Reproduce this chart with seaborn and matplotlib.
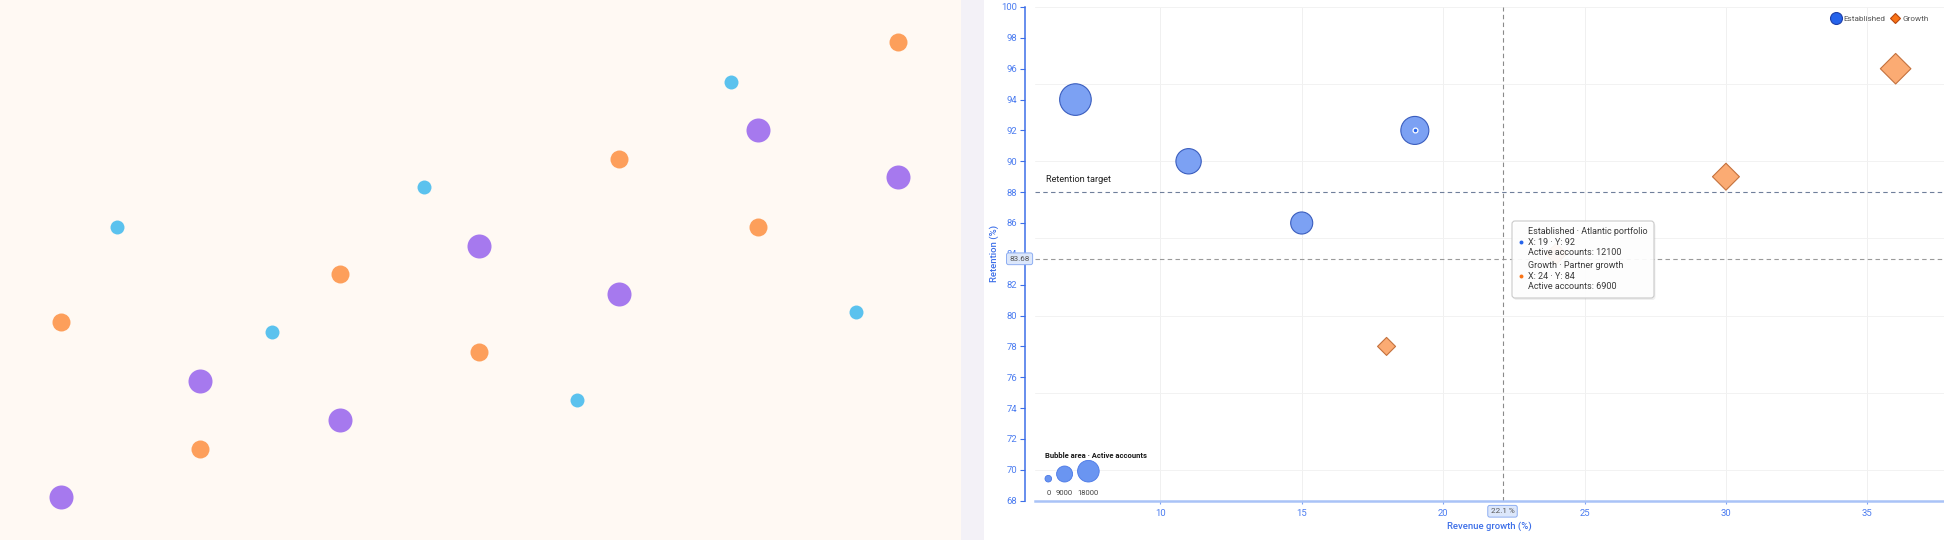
import pandas as pd
import matplotlib.pyplot as plt
import seaborn as sns
from matplotlib.lines import Line2D
from matplotlib.patches import FancyBboxPatch
from matplotlib.ticker import FixedLocator, MultipleLocator
from matplotlib.transforms import blended_transform_factory

# linkes Panel: drei unbeschriftete Punktreihen
purple_x = [0, 1, 2, 3, 4, 5, 6]
purple_y = [8.0, 29.4, 22.2, 54.4, 45.6, 75.9, 67.2]
orange_x = [0, 1, 2, 3, 4, 5, 6]
orange_y = [40.4, 16.9, 49.3, 34.8, 70.6, 58.0, 92.2]
cyan_x = [0.40, 1.51, 2.60, 3.70, 4.80, 5.70]
cyan_y = [58.0, 38.5, 65.4, 25.9, 84.8, 42.2]

# rechtes Panel: Bubble-Chart
est_growth = [7, 11, 15, 19]
est_retention = [94, 90, 86, 92]
est_accounts = [15400, 9900, 7500, 12100]
gro_growth = [18, 24, 30, 36]
gro_retention = [78, 84, 89, 96]
gro_accounts = [5000, 6900, 11200, 14400]
size_legend_values = [0, 9000, 18000]
y_ticks = list(range(68, 101, 2))
x_ticks = [10, 15, 20, 25, 30, 35]
retention_target = 88
cursor_x, cursor_y = 22.1, 83.68
hover = [('Established', 'Atlantic portfolio', 3), ('Growth', 'Partner growth', 1)]

BLUE = '#2563EB'
ORANGE = '#F97316'
AXIS_BLUE = '#3D6FE8'
TICK_BLUE = '#4B7CF0'
W, H = 1944, 540

sns.set_theme(style='white')
plt.rcParams['font.family'] = ['Roboto', 'DejaVu Sans']

fig = plt.figure(figsize=(19.44, 5.4), dpi=100, facecolor='#F3F1F7')

# --- linkes Panel
left = fig.add_axes([0, 0, 961 / W, 1], facecolor='#FFF9F3')
sns.scatterplot(x=purple_x, y=purple_y, ax=left, color='#A679EE', s=299, linewidth=0, legend=False)
sns.scatterplot(x=orange_x, y=orange_y, ax=left, color='#FD9F5B', s=168, linewidth=0, legend=False)
sns.scatterplot(x=cyan_x, y=cyan_y, ax=left, color='#5BC2EE', s=101, linewidth=0, legend=False)
left.set_xlim(-0.437, 6.452)
left.set_ylim(0, 100)
left.set_xticks([])
left.set_yticks([])
for sp in left.spines.values():
    sp.set_visible(False)

# --- rechtes Panel
bg = fig.add_axes([984 / W, 0, (W - 984) / W, 1], facecolor='white')
bg.set_xticks([])
bg.set_yticks([])
for sp in bg.spines.values():
    sp.set_visible(False)

ax = fig.add_axes([1035 / W, (H - 500.7) / H, (W - 1035) / W, (500.7 - 7) / H], facecolor='white')

est = pd.DataFrame({'growth': est_growth, 'retention': est_retention, 'accounts': est_accounts})
gro = pd.DataFrame({'growth': gro_growth, 'retention': gro_retention, 'accounts': gro_accounts})

sns.scatterplot(data=est, x='growth', y='retention', size='accounts', sizes=(0, 0.0336 * 18000),
                size_norm=(0, 18000), color='#7CA1F3', edgecolor='#3A5DBE', linewidth=0.8,
                marker='o', legend=False, ax=ax, zorder=3)
sns.scatterplot(data=gro, x='growth', y='retention', size='accounts', sizes=(0, 0.0168 * 18000),
                size_norm=(0, 18000), color='#FBAB73', edgecolor='#C4713D', linewidth=0.8,
                marker='D', legend=False, ax=ax, zorder=3)

# hervorgehobener Punkt
i_est = hover[0][2]
ax.scatter([est_growth[i_est]], [est_retention[i_est]], s=12, color=BLUE, edgecolor='white',
           linewidth=0.9, zorder=4)

ax.set_xlim(5.57, 37.71)
ax.set_ylim(68, 100)
ax.xaxis.set_major_locator(FixedLocator(x_ticks))
ax.yaxis.set_major_locator(FixedLocator(y_ticks))
ax.yaxis.set_minor_locator(MultipleLocator(5))
ax.yaxis.remove_overlapping_locs = False

ax.grid(axis='x', color='#F0F0F0', linewidth=0.7)
ax.grid(axis='y', which='minor', color='#F2F2F2', linewidth=0.7)
ax.grid(axis='y', which='major', visible=False)
ax.set_axisbelow(True)

ax.spines['top'].set_visible(False)
ax.spines['right'].set_visible(False)
ax.spines['left'].set_position(('outward', 7.2))
ax.spines['left'].set_color(AXIS_BLUE)
ax.spines['left'].set_linewidth(1.1)
ax.spines['bottom'].set_color('#A9C3F7')
ax.spines['bottom'].set_linewidth(1.8)

ax.tick_params(axis='y', which='major', direction='out', length=3.6, width=0.8, color=AXIS_BLUE,
               labelcolor=TICK_BLUE, labelsize=6.8, pad=2, left=True)
ax.tick_params(axis='y', which='minor', length=0)
ax.tick_params(axis='x', direction='out', length=2.2, width=0.8, color='#7EA2F3',
               labelcolor=TICK_BLUE, labelsize=6.8, pad=4, bottom=True)

ax.set_xlabel('Revenue growth (%)', color=AXIS_BLUE, fontsize=6.8, fontweight='medium', labelpad=2.5)
ax.set_ylabel('Retention (%)', color=AXIS_BLUE, fontsize=6.8, fontweight='medium', labelpad=2)

# Referenzlinien
ax.axhline(retention_target, color='#6F7F9B', linewidth=0.8, dashes=(4, 3), zorder=2)
ax.axhline(cursor_y, color='#9A9A9A', linewidth=0.8, dashes=(4, 3), zorder=2)
ax.axvline(cursor_x, color='#8A8A8A', linewidth=0.8, dashes=(4, 3), zorder=2)

bx = blended_transform_factory(ax.transAxes, ax.transData)
ax.annotate('Retention target', xy=(0.012, retention_target), xycoords=bx, xytext=(0, 9.4),
            textcoords='offset points', va='center', ha='left', fontsize=6.6, color='#222222')

label_box = dict(boxstyle='round,pad=0.35,rounding_size=0.25', facecolor='#DCE7FB',
                 edgecolor='#8EAEF2', linewidth=0.7)
ax.text(-0.017, cursor_y, f'{cursor_y:.2f}', transform=bx, ha='center', va='center',
        fontsize=5.9, color='#555555', bbox=label_box, zorder=6, clip_on=False)
ax.annotate(f'{cursor_x:.1f} %', xy=(cursor_x, 0), xycoords=('data', 'axes fraction'),
            xytext=(0, -7.6), textcoords='offset points', ha='center', va='center',
            fontsize=5.9, color='#555555', bbox=label_box, zorder=6, annotation_clip=False)

# Legende oben rechts
handles = [Line2D([], [], marker='o', linestyle='none', markersize=8.6, markerfacecolor=BLUE,
                  markeredgecolor='#1E3FA8', markeredgewidth=0.8, label='Established'),
           Line2D([], [], marker='D', linestyle='none', markersize=5.6, markerfacecolor=ORANGE,
                  markeredgecolor='#B8460E', markeredgewidth=0.8, label='Growth')]
leg = ax.legend(handles=handles, loc='upper right', bbox_to_anchor=(0.99, 0.995), ncol=2,
                frameon=False, fontsize=5.9, handletextpad=0.5, columnspacing=0.6,
                handlelength=1.0, borderaxespad=0.3)
for t in leg.get_texts():
    t.set_color('#555555')

# Overlay in Pixelkoordinaten für Tooltip und Größenlegende
ov = fig.add_axes([0, 0, 1, 1], zorder=5)

shadow = FancyBboxPatch((1513.5, 223), 142, 77, boxstyle='round,pad=0,rounding_size=3',
                        facecolor='black', alpha=0.06, edgecolor='none')
ov.add_patch(shadow)
tip = FancyBboxPatch((1512, 221), 142, 77, boxstyle='round,pad=0,rounding_size=3',
                     facecolor='white', alpha=0.93, edgecolor='#C6C6C6', linewidth=0.8)
ov.add_patch(tip)

series_data = {'Established': (est_growth, est_retention, est_accounts, BLUE),
               'Growth': (gro_growth, gro_retention, gro_accounts, ORANGE)}
y0 = 231.7
for k, (series, name, idx) in enumerate(hover):
    gx, ry, acc, col = series_data[series]
    base = y0 + k * 34
    lines = [f'{series} · {name}', f'X: {gx[idx]} · Y: {ry[idx]}', f'Active accounts: {acc[idx]}']
    for j, line in enumerate(lines):
        ov.text(1528, base + j * 10.4, line, fontsize=6.5, color='#3A3A3A', ha='left', va='center')
    ov.scatter([1520.7], [base + 10.4], s=8, color=col, linewidth=0)

# Größenlegende
ov.text(1045, 455.7, 'Bubble area · Active accounts', fontsize=5.5, fontweight='bold',
        color='#1A1A1A', ha='left', va='center')
leg_sizes = [22.6 + v * (219.4 / 18000) for v in size_legend_values]
radii = [(s ** 0.5) / 2 / 0.72 for s in leg_sizes]
cx, centers = 1045.0, []
for r in radii:
    cx += r
    centers.append(cx)
    cx += r + 5
leg_df = pd.DataFrame({'x': centers, 'y': [482 - r for r in radii], 'v': size_legend_values})
sns.scatterplot(data=leg_df, x='x', y='y', size='v', sizes=(min(leg_sizes), max(leg_sizes)),
                size_norm=(0, 18000), color='#6A95F1', edgecolor='#4A78E6', linewidth=0.6,
                legend=False, ax=ov)
for c, v in zip(centers, size_legend_values):
    ov.text(c, 492.7, str(v), fontsize=5.5, color='#444444', ha='center', va='center')
ov.set_xlim(0, W)
ov.set_ylim(H, 0)
ov.set_axis_off()

fig.savefig('out.png', dpi=100, facecolor=fig.get_facecolor())
